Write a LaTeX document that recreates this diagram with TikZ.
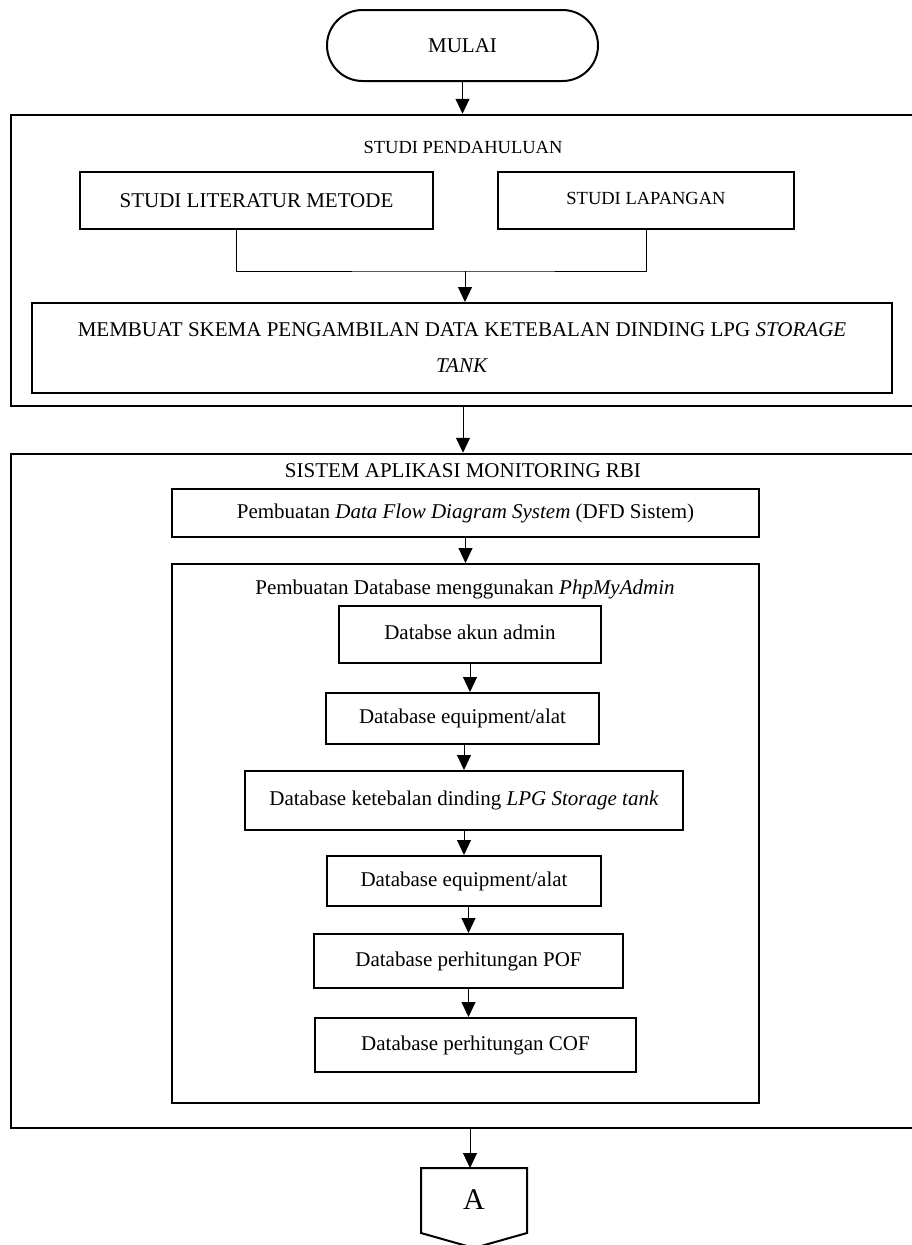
\documentclass[tikz,border=0pt]{standalone}
\usepackage{fontspec}
\setmainfont{Liberation Serif}
\usetikzlibrary{arrows.meta,calc}
\tikzset{
  box/.style={draw, line width=2pt, inner sep=0pt},
  outerbox/.style={draw, line width=2.5pt, inner sep=0pt},
  conn/.style={line width=1pt},
  arr/.style={line width=1pt, -{Triangle[width=14pt,length=15pt]}},
  big/.style={font=\fontsize{21}{36}\selectfont},
  small/.style={font=\fontsize{18.5}{22}\selectfont},
  huge/.style={font=\fontsize{30}{30}\selectfont},
}
\begin{document}
\begin{tikzpicture}[x=1pt,y=-1pt]
\useasboundingbox (0,0) rectangle (912,1245);
% start
\node[box, rounded corners=35.5pt, minimum width=271pt, minimum height=71pt, big] (mulai) at (462.5,45.5) {MULAI};
% block 1
\node[outerbox, minimum width=904pt, minimum height=291pt] (outer1) at (463,260.5) {};
\draw[arr] (mulai.south) -- (mulai.south |- outer1.north);
\node[small] (t1) at (463,147) {STUDI PENDAHULUAN};
\node[box, minimum width=353pt, minimum height=57pt, big] (lit) at (256.5,200.5) {STUDI LITERATUR METODE};
\node[box, minimum width=296pt, minimum height=57pt, small] (lap) at (646,200.5) {\raisebox{5pt}{STUDI LAPANGAN}};
\coordinate (join) at (465,271);
\draw[conn] ($(lit.south)+(-20.5,0)$) |- (join) -| (lap.south);
\node[box, minimum width=860pt, minimum height=90pt, big, align=center] (membuat) at (462,348)
  {MEMBUAT SKEMA PENGAMBILAN DATA KETEBALAN DINDING LPG \textit{STORAGE}\\\textit{TANK}};
\draw[arr] (join) -- (join |- membuat.north);
% block 2
\node[outerbox, minimum width=904pt, minimum height=674pt] (outer2) at (463,791) {};
\draw[arr] (outer1.south) -- (outer2.north);
\node[big] (t2) at (463,471) {SISTEM APLIKASI MONITORING RBI};
\node[box, minimum width=587pt, minimum height=48pt, big] (dfd) at (465.5,513)
  {Pembuatan \textit{Data Flow Diagram System} (DFD Sistem)};
\node[box, minimum width=587pt, minimum height=539pt] (db) at (465.5,833.5) {};
\draw[arr] (dfd.south) -- (dfd.south |- db.north);
\node[big] (t3) at (465,589) {Pembuatan Database menggunakan \textit{PhpMyAdmin}};
\node[box, minimum width=262pt, minimum height=57pt, big] (akun) at (470,634.5) {\raisebox{5pt}{Databse akun admin}};
\node[box, minimum width=273pt, minimum height=51pt, big] (eq1) at (462.5,718.5) {Database equipment/alat};
\node[box, minimum width=438pt, minimum height=59pt, big] (lpg) at (464,800.5) {\raisebox{3pt}{Database ketebalan dinding \textit{LPG Storage tank}}};
\node[box, minimum width=274pt, minimum height=50pt, big] (eq2) at (464,881) {Database equipment/alat};
\node[box, minimum width=309pt, minimum height=54pt, big] (pof) at (468.5,961) {Database perhitungan POF};
\node[box, minimum width=321pt, minimum height=54pt, big] (cof) at (475.5,1045) {Database perhitungan COF};
\draw[arr] (akun.south) -- (akun.south |- eq1.north);
\draw[arr] (eq1.south -| lpg.north) -- (lpg.north);
\draw[arr] (lpg.south) -- (lpg.south |- eq2.north);
\draw[arr] (eq2.south -| pof.north) -- (pof.north);
\draw[arr] (pof.south) -- (pof.south |- cof.north);
% off-page connector
\coordinate (Atop) at (470,1168);
\draw[arr] (outer2.south -| Atop) -- (Atop);
\draw[box] (421,1168) -- (527,1168) -- (527,1233) -- (474,1248) -- (421,1233) -- cycle;
\node[huge] (A) at (474,1200) {A};
\end{tikzpicture}
\end{document}
